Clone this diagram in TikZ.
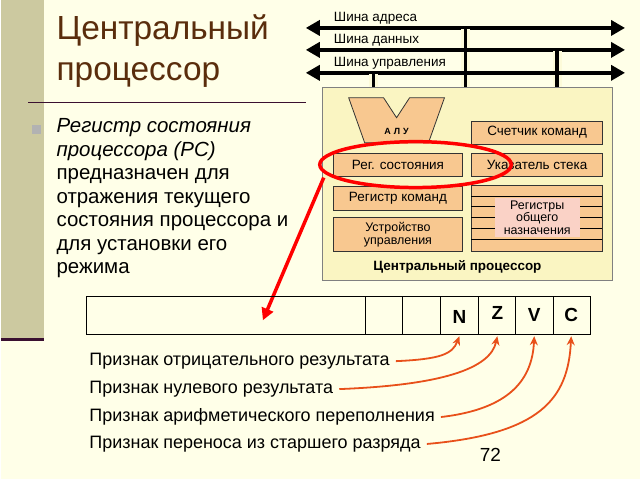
\documentclass[tikz,border=0pt]{standalone}
\usepackage{fontspec}
\setmainfont{Liberation Sans}
\usetikzlibrary{arrows.meta}
\definecolor{cream}{HTML}{FFFFE8}
\definecolor{strip}{HTML}{CCC9A0}
\definecolor{rule}{HTML}{3A1030}
\definecolor{titlec}{HTML}{5A2D0C}
\definecolor{cpufill}{HTML}{FAF5C2}
\definecolor{boxfill}{HTML}{F8C890}
\definecolor{pinkfill}{HTML}{FAD2C6}
\definecolor{flagarrow}{HTML}{E8501A}

\begin{document}
\begin{tikzpicture}[x=1pt,y=-1pt,
    bus/.style={line width=3.5pt, {Triangle[length=14pt,width=15pt]}-{Triangle[length=14pt,width=15pt]}},
    tap/.style={line width=3.5pt, preaction={draw=cpufill!40!cream, line width=9pt}},
    unit/.style={draw=black!80, fill=boxfill, line width=0.8pt},
    unitfont/.style={font=\fontsize{13.5}{13}\selectfont},
    smallfont/.style={font=\fontsize{12.5}{12.5}\selectfont},
    flagarr/.style={flagarrow, line width=1.8pt, -{Stealth[length=9pt,width=8pt]}},
    flagtext/.style={anchor=west, inner sep=2pt, font=\fontsize{18}{18}\selectfont}]
    % background and slide decorations
    \fill [cream] (0,0) rectangle (640,480);
    \fill [strip] (0,0) rectangle (43,340);
    \draw [rule, line width=3pt] (0,340) -- (43,340);
    \draw [rule, line width=1pt] (27,103) -- (305,103);
    \node [anchor=base west, text=titlec, font=\fontsize{33.5}{33.5}\selectfont, inner sep=0] (title1) at (55,40) {Центральный};
    \node [anchor=base west, text=titlec, font=\fontsize{33.5}{33.5}\selectfont, inner sep=0] (title2) at (55,81) {процессор};
    \fill [gray!60] (31,125) rectangle (40,134);
    \node [anchor=north west, align=left, inner sep=0, font=\fontsize{20.5}{23.5}\selectfont] (desc) at (55,119)
        {\itshape Регистр состояния\\ \itshape процессора (РС)\\ предназначен для\\ отражения текущего\\ состояния процессора и\\ для установки его\\ режима};

    % buses
    \foreach \y/\name in {28/Шина адреса, 50/Шина данных, 73/Шина управления}
        \node [anchor=base west, inner sep=0, font=\fontsize{13.5}{14}\selectfont] at (333,\y-6) {\name};
    \draw [bus] (305,28) -- (625,28);
    \draw [tap] (465,29) -- (465,88);
    \draw [bus] (305,50) -- (625,50);
    \draw [tap] (557,51) -- (557,88);
    \draw [bus] (305,73) -- (625,73);
    \draw [tap] (373,74) -- (373,88);

    % processor
    \draw [draw=black!50, fill=cpufill, line width=0.8pt] (322,88) rectangle (612,281);
    \draw [unit] (348,98) -- (383,98) -- (396,118) -- (409,98) -- (444,98) -- (428,143) -- (364,143) -- cycle;
    \node [font=\fontsize{9}{9}\bfseries\selectfont] (alu) at (396,132) {А\,\,Л\,\,У};
    \node [unit, unitfont, minimum width=131, minimum height=23, anchor=north west] (pc) at (471,121) {Счетчик команд};
    \node [unit, unitfont, minimum width=130, minimum height=23, anchor=north west] (psr) at (332,153) {Рег. состояния};
    \node [unit, unitfont, minimum width=131, minimum height=23, anchor=north west] (sp) at (471,153) {Указатель стека};
    \node [unit, unitfont, minimum width=130, minimum height=24, anchor=north west] (ir) at (332,186) {Регистр команд};
    \node [unit, smallfont, minimum width=130, minimum height=34, anchor=north west, align=center, inner sep=0] (cu) at (332,218) {Устройство\\управления};
    \draw [unit] (471,186) rectangle (602,252);
    \foreach \y in {197,207,218,229,240}
        \draw [line width=0.8pt] (471,\y) -- (602,\y);
    \node [smallfont, fill=pinkfill, minimum width=85, minimum height=40, align=center, inner sep=0] (gpr) at (537,218) {Регистры\\общего\\назначения};
    \node [font=\fontsize{13.5}{14}\bfseries\selectfont] (cpu) at (457,268) {Центральный процессор};

    % highlight
    \draw [red, line width=3.5pt] (415,165) ellipse [x radius=96, y radius=23];
    \coordinate (hl) at (323,178);
    \coordinate (hit) at (262,321);
    \draw [red, line width=3.5pt, -{Triangle[length=12pt,width=12pt]}] (hl) -- (hit);

    % flag register
    \draw [line width=1pt] (85,297) rectangle (590,335);
    \foreach \x in {365,402,440,478,515,553}
        \draw [line width=1pt] (\x,297) -- (\x,335);
    \node [font=\fontsize{19}{19}\bfseries\selectfont] (N) at (459,318) {N};
    \node [font=\fontsize{19}{19}\bfseries\selectfont] (Z) at (497,314) {Z};
    \node [font=\fontsize{19}{19}\bfseries\selectfont] (V) at (534,316) {V};
    \node [font=\fontsize{19}{19}\bfseries\selectfont] (C) at (571,316) {C};
    \coordinate (Nb) at (459,337);
    \coordinate (Zb) at (497,337);
    \coordinate (Vb) at (534,337);
    \coordinate (Cb) at (571,337);

    \node [flagtext] (neg) at (86,362) {Признак отрицательного результата};
    \node [flagtext] (zero) at (86,390) {Признак нулевого результата};
    \node [flagtext] (ovf) at (86,418) {Признак арифметического переполнения};
    \node [flagtext] (carry) at (86,445) {Признак переноса из старшего разряда};
    \draw [flagarr] ([xshift=4pt]neg.east) .. controls (440,360) and (452,355) .. (Nb);
    \draw [flagarr] ([xshift=4pt]zero.east) .. controls (440,386) and (490,370) .. (Zb);
    \draw [flagarr] ([xshift=4pt]ovf.east) .. controls (510,410) and (532,380) .. (Vb);
    \draw [flagarr] ([xshift=4pt]carry.east) .. controls (540,435) and (568,400) .. (Cb);
    \node [font=\fontsize{19}{19}\selectfont] (page) at (490,456) {72};
\end{tikzpicture}
\end{document}
